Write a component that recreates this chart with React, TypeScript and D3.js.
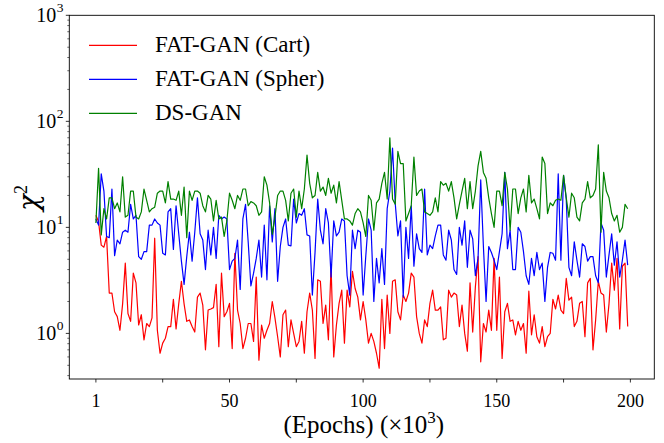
import React from "react";
import * as d3 from "d3";

// chi^2 per epoch (x1000)
const cart = [
  13, 11.3, 6.8, 6.5, 8.2, 2.4, 2.4, 1.6, 1.44, 1.07,
  1.9, 4.6, 1.54, 1.3, 3.7, 3.0, 1.2, 1.5, 0.87, 1.24,
  1.16, 1.4, 7.9, 1.07, 0.65, 0.81, 0.9, 1.16, 1.16, 2.1,
  1.1, 1.9, 3.1, 1.9, 1.3, 1.34, 1.16, 1.03, 2.2, 2.4,
  1.85, 0.7, 1.66, 1.7, 1.75, 2.9, 0.75, 3.7, 1.44, 1.6,
  1.92, 0.72, 5.7, 1.66, 1.24, 0.72, 0.9, 1.24, 1.24, 0.84,
  3.4, 0.56, 1.2, 0.9, 1.07, 1.24, 2.0, 1.4, 0.93, 0.6,
  1.5, 1.66, 0.75, 1.34, 1.0, 0.75, 0.84, 1.3, 0.65, 1.6,
  2.4, 1.66, 0.58, 3.2, 3.1, 1.24, 1.85, 0.87, 4.3, 0.6,
  1.2, 1.92, 2.56, 0.81, 2.56, 1.78, 3.85, 2.65, 2.2, 1.34,
  2.0, 1.34, 0.81, 1.0, 0.84, 0.65, 0.47, 2.1, 0.72, 2.3,
  1.0, 3.1, 3.2, 1.6, 1.34, 2.3, 2.0, 2.4, 3.7, 3.4,
  1.44, 1.0, 0.81, 1.34, 1.16, 1.92, 2.56, 1.66, 1.66, 1.78,
  0.87, 0.9, 2.56, 2.2, 2.4, 2.3, 1.16, 1.85, 1.0, 0.68,
  3.0, 1.03, 2.75, 5.3, 0.54, 1.24, 1.03, 1.66, 1.07, 5.1,
  1.07, 3.4, 0.58, 1.6, 1.92, 1.3, 1.34, 0.97, 1.3, 1.07,
  1.24, 0.65, 2.5, 0.97, 1.5, 0.93, 0.81, 1.16, 0.75, 0.93,
  1.0, 2.1, 1.7, 2.3, 1.66, 1.54, 3.3, 2.06, 2.2, 1.16,
  1.3, 1.92, 2.0, 0.93, 3.0, 3.3, 0.7, 1.34, 3.1, 2.4,
  2.3, 1.03, 1.9, 4.6, 2.56, 5.1, 1.1, 4.3, 4.6, 1.16,
];

const spher = [
  12, 10.5, 32, 22, 8.2, 8, 23, 5.4, 7.6, 7,
  9, 9.4, 9, 16.5, 12, 13, 5.3, 5, 5.9, 5.9,
  10.5, 10.5, 12, 11, 10.5, 5.7, 5.5, 14, 15, 6.2,
  16, 8.7, 4.8, 2.9, 5.3, 9, 4.8, 9, 19, 8.7,
  7.6, 4, 9.4, 5.5, 10, 5.1, 13, 12, 12.5, 12,
  4, 4.8, 5.1, 7.6, 2.6, 12, 16.5, 7.2, 2.8, 3.7,
  5.1, 7.6, 3.4, 10.5, 3.2, 16, 7.3, 15, 3.1, 6.6,
  10, 12, 6.8, 6.7, 18.5, 11, 13.5, 13, 15, 8.5,
  8.3, 2.3, 5.8, 18.5, 9.4, 7, 15, 11, 3.4, 11.5,
  8.3, 9, 12, 11.5, 3.5, 2.3, 9.4, 6.3, 9.4, 9,
  2.3, 5.4, 12, 9.4, 2, 5.1, 3, 6.3, 2.9, 15,
  22, 56, 17, 8.3, 11.5, 2.2, 10, 5.1, 16, 4.3,
  8.7, 6.3, 5.8, 23, 5.5, 6.8, 6.3, 8.3, 10.5, 10.5,
  5.5, 4.9, 9.4, 7.6, 4, 3.6, 10, 6.8, 11.5, 4.2,
  9.4, 7.8, 3.5, 5.1, 28, 6.6, 2, 6.6, 5.8, 4.9,
  4, 5.9, 8.7, 33, 6.3, 9.4, 4, 4, 10, 9,
  5.9, 3.5, 2.9, 5.1, 3.5, 5.8, 4, 4.6, 2, 4.2,
  5.8, 5.7, 4.9, 32, 4.9, 31, 18.5, 4.2, 3.5, 7.3,
  4.9, 3.4, 7, 6.6, 4.8, 5.3, 5.3, 3.5, 3, 11,
  9.4, 3.4, 5.5, 8.7, 4.4, 7.3, 3.4, 4.9, 7.6, 4.4,
];

const dsgan = [
  11, 36, 8.5, 15, 12, 19, 19, 15, 17, 14,
  30, 12.5, 13, 22, 22, 12.5, 12, 14, 23, 18,
  14, 15, 15.5, 21, 22, 22, 17, 27, 18.5, 18.5,
  18, 22, 13, 24, 8, 22, 18, 22, 22, 21,
  16, 14, 20, 18.5, 11.5, 18, 12, 12.5, 8.2, 11.5,
  21, 18, 15, 20, 18, 23, 23, 16, 17.5, 17,
  16, 13, 14, 30, 25, 17, 8.6, 12.5, 20, 22,
  22, 18, 11.5, 21, 23, 12.5, 22, 15, 23, 48,
  26, 19, 20, 33, 22, 24, 20, 29, 21, 25,
  17, 27, 18, 12, 12, 11.5, 10.5, 13.5, 15, 14,
  11, 8.2, 20, 18, 9.4, 17, 18.5, 26, 33, 18.5,
  70, 18.5, 16.5, 52, 40, 40, 11.5, 13.5, 16, 46,
  20, 22, 23, 14, 13.5, 13, 14, 19, 14, 27,
  25, 26, 22, 27, 19, 12, 16.5, 22, 29, 15,
  27, 15, 22, 38, 52, 33, 29, 19, 13.5, 10,
  22, 22, 16, 33, 23, 9.4, 23, 23, 13.5, 19,
  23, 14, 31, 17, 18.5, 15, 12, 46, 40, 13.5,
  17, 16, 18, 18.5, 18, 31, 19, 12.5, 21, 19,
  12.5, 11.5, 17, 18.5, 27, 19, 20, 23, 60, 9,
  33, 22, 19, 13.5, 11.5, 13, 9, 10, 16.5, 15,
];

const seriesNames = ["FAT-GAN (Cart)", "FAT-GAN (Spher)", "DS-GAN"];
const seriesColors = ["#ff0000", "#0000ff", "#008000"];
const xTickValues = [0, 50, 100, 150, 200];
const xTickLabels = ["1", "50", "100", "150", "200"];
const xMinorTicks = [25, 75, 125, 175];
const yDecades = [0, 1, 2, 3];

const W = 664;
const H = 443;
const font = "'Liberation Serif', 'DejaVu Serif', serif";

export default function App() {
  const left = 69.3, right = 654.3, top = 15.3, bottom = 379;

  const x = d3.scaleLinear().domain([-9.95, 208.95]).range([left, right]);
  const y = d3.scaleLog().domain([Math.pow(10, -0.43), 1000]).range([bottom, top]);

  const line = d3
    .line<number>()
    .x((_, i) => x(i))
    .y((d) => y(d));

  const series = [cart, spher, dsgan];

  const minor = y.ticks().filter((t) => {
    const l = Math.log10(t);
    return Math.abs(l - Math.round(l)) > 1e-6 && t >= y.domain()[0] && t <= 1000;
  });

  return (
    <svg
      width={W}
      height={H}
      style={{ position: "absolute", left: 0, top: 0, background: "#fff" }}
      fontFamily={font}
    >
      <rect x={0} y={0} width={W} height={H} fill="#fff" />

      {/* data lines */}
      <g fill="none" strokeWidth={1.2} strokeLinejoin="round">
        {series.map((s, k) => (
          <path key={k} d={line(s) || ""} stroke={seriesColors[k]} />
        ))}
      </g>

      {/* frame */}
      <rect
        x={left}
        y={top}
        width={right - left}
        height={bottom - top}
        fill="none"
        stroke="#000"
        strokeWidth={0.9}
      />

      {/* x ticks */}
      {xTickValues.map((t, i) => (
        <g key={"xt" + t}>
          <line x1={x(t)} x2={x(t)} y1={bottom} y2={bottom + 3.5} stroke="#000" strokeWidth={0.8} />
          <text x={x(t)} y={bottom + 28} textAnchor="middle" fontSize={18}>
            {xTickLabels[i]}
          </text>
        </g>
      ))}
      {xMinorTicks.map((t) => (
        <line key={"xm" + t} x1={x(t)} x2={x(t)} y1={bottom} y2={bottom + 3.5} stroke="#000" strokeWidth={0.8} />
      ))}

      {/* y ticks */}
      {minor.map((t) => (
        <line key={"ym" + t} x1={left - 2} x2={left} y1={y(t)} y2={y(t)} stroke="#000" strokeWidth={0.6} />
      ))}
      {yDecades.map((e) => (
        <g key={"yt" + e}>
          <line x1={left - 3.5} x2={left} y1={y(Math.pow(10, e))} y2={y(Math.pow(10, e))} stroke="#000" strokeWidth={0.8} />
          <text x={left - 13} y={y(Math.pow(10, e)) + 6.5} textAnchor="end" fontSize={20}>
            10
          </text>
          <text x={left - 12.5} y={y(Math.pow(10, e)) - 3} textAnchor="start" fontSize={13.5}>
            {e}
          </text>
        </g>
      ))}

      {/* axis labels */}
      <text x={(left + right) / 2 + 2} y={433} textAnchor="middle" fontSize={25}>
        (Epochs) (×10
        <tspan dy={-10} fontSize={17}>3</tspan>
        <tspan dy={10}>)</tspan>
      </text>
      <text
        transform={`translate(38, 198) rotate(-90)`}
        textAnchor="middle"
        fontSize={28}
        fontFamily="'DejaVu Serif', serif"
        fontStyle="italic"
      >
        χ<tspan dy={-11} fontSize={18} fontStyle="normal" fontFamily={font}>2</tspan>
      </text>

      {/* legend */}
      {seriesNames.map((name, k) => {
        const ly = 45.3 + k * 34;
        return (
          <g key={name}>
            <line x1={89} x2={137} y1={ly} y2={ly} stroke={seriesColors[k]} strokeWidth={1.2} />
            <text x={155} y={ly + 7} fontSize={23}>
              {name}
            </text>
          </g>
        );
      })}
    </svg>
  );
}
